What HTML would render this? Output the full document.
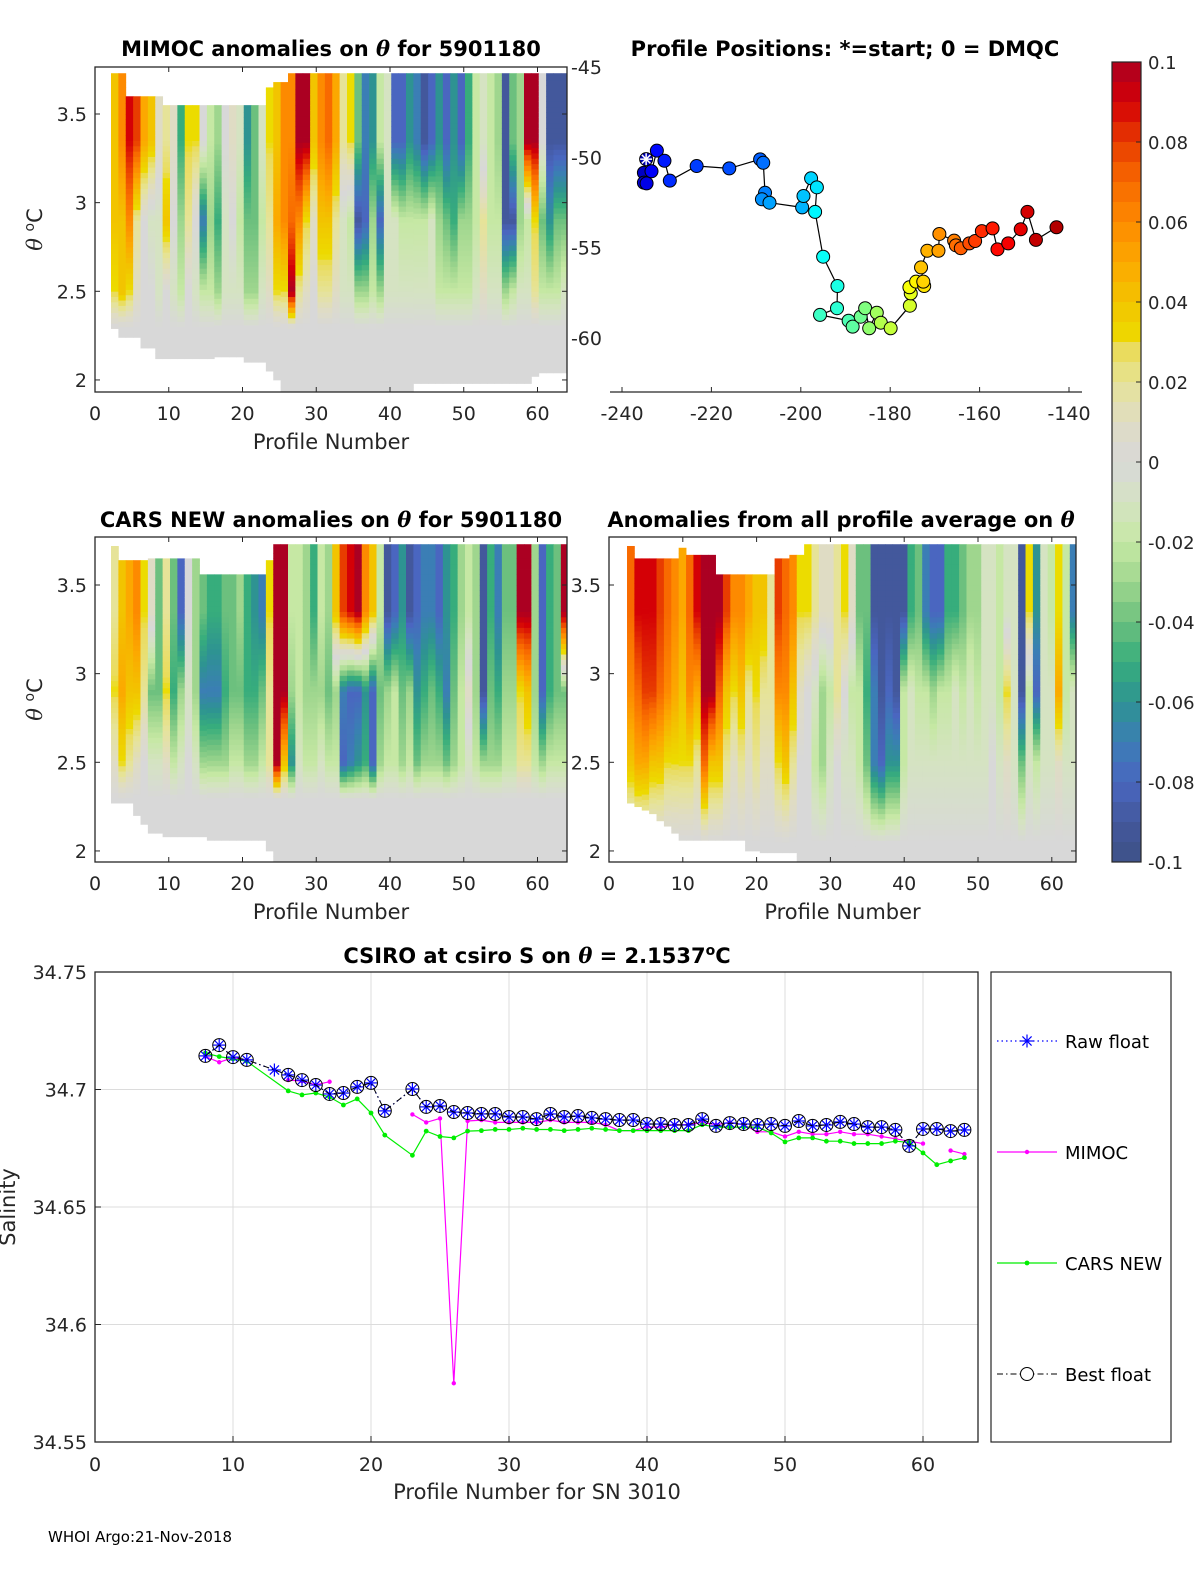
<!DOCTYPE html>
<html><head><meta charset="utf-8"><style>
html,body{margin:0;padding:0;background:#fff}
svg{display:block;font-family:"DejaVu Sans","Liberation Sans",sans-serif}
</style></head><body>
<svg id="fig" width="1200" height="1575" viewBox="0 0 1200 1575" xmlns="http://www.w3.org/2000/svg">
<g id="titles" font-weight="bold" font-size="21" text-anchor="middle" fill="#000">
<text x="331" y="56">MIMOC anomalies on <tspan font-style="italic" font-family="DejaVu Serif,serif">θ</tspan>  for 5901180</text>
<text x="845" y="56">Profile Positions: *=start; 0 = DMQC</text>
<text x="331" y="527">CARS NEW anomalies on <tspan font-style="italic" font-family="DejaVu Serif,serif">θ</tspan> for 5901180</text>
<text x="841" y="527">Anomalies from all profile average on <tspan font-style="italic" font-family="DejaVu Serif,serif">θ</tspan></text>
<text x="537" y="963">CSIRO at csiro S on <tspan font-style="italic" font-family="DejaVu Serif,serif">θ</tspan> = 2.1537<tspan dy="-8" font-size="14">o</tspan><tspan dy="8">C</tspan></text>
</g>
<text x="48" y="1542" font-size="15" fill="#000">WHOI Argo:21-Nov-2018</text>
</svg>
<script>
// ---------- colormap ----------
const cmapStops = [[-10,'#3d5187'],[-9,'#43589c'],[-8,'#4a66c0'],[-7,'#3b7eb5'],[-6,'#2e9392'],[-5,'#37ad7c'],[-4,'#6cc07e'],[-3,'#9fd68e'],[-2,'#c6e8a4'],[-1,'#d5e3c2'],[0,'#d8d8d8'],[1,'#dfdcc4'],[2,'#e6e398'],[2.8,'#eadc5a'],[3,'#ecdc00'],[4,'#f2c400'],[5,'#fca800'],[6,'#fd8a00'],[7,'#f86a00'],[8,'#e83c00'],[9,'#d40006'],[10,'#ab0022']];
const colorbarTicks = [0.1,0.08,0.06,0.04,0.02,0,-0.02,-0.04,-0.06,-0.08,-0.1];
// ---------- heatmap data (hundredths), columns = profiles 3..64 ----------
const mimocUpper = [4,6,9,8,5,4,1,2,1,-5,3,3,0,-2,-3,0,1,-1,-6,-4,-1,3,4,6,6,10,10,4,6,7,5,2,3,-4,-7,-6,-2,-1,-8,-8,-6,-7,-9,-8,-6,-8,-6,-8,-5,-2,-1,-2,-3,-9,-4,-3,10,10,0,-9,-9,-9];
const mimocMid = [4,4,6,2,0,-1,-1,4,0,-3,2,0,-7,-3,-5,-1,0,-2,-4,-4,-2,2,5,6,7,6,3,1,4,4,2,-1,-2,-9,-8,-3,-8,-1,-1,-2,-2,-2,-2,-1,-3,-4,-5,-3,-3,-2,2,-2,-2,-9,-9,-3,-2,3,-4,-6,-4,-4];
const mimocLow = [3,4,3,1,0,0,-1,0,-1,-2,0,-1,-2,-2,-3,-1,-1,-1,-3,-3,-1,1,3,3,10,2,1,0,2,2,1,-1,-1,-3,-3,-2,-3,-1,-1,-1,-1,-1,-1,-1,-2,-2,-2,-2,-2,-1,1,-1,-1,-3,-2,-1,-1,2,-2,-2,-2,-1];
const mimocTop = [3.73,3.73,3.6,3.6,3.6,3.6,3.6,3.55,3.55,3.55,3.55,3.55,3.55,3.55,3.55,3.55,3.55,3.55,3.55,3.55,3.55,3.65,3.68,3.68,3.73,3.73,3.73,3.73,3.73,3.73,3.73,3.73,3.73,3.73,3.73,3.73,3.73,3.73,3.73,3.73,3.73,3.73,3.73,3.73,3.73,3.73,3.73,3.73,3.73,3.73,3.73,3.73,3.73,3.73,3.73,3.73,3.73,3.73,3.73,3.73,3.73,3.73];
const mimocBot = [2.29,2.24,2.24,2.24,2.18,2.18,2.12,2.12,2.12,2.12,2.12,2.12,2.12,2.12,2.13,2.13,2.13,2.13,2.1,2.1,2.1,2.05,2.0,1.93,1.93,1.93,1.93,1.93,1.93,1.93,1.93,1.93,1.93,1.93,1.93,1.93,1.93,1.93,1.93,1.93,1.93,1.98,1.98,1.98,1.98,1.98,1.98,1.98,1.98,1.98,1.98,1.98,1.98,1.98,1.98,1.98,1.98,2.02,2.04,2.04,2.04,2.04];
const carsUpper = [2,4,5,6,3,1,-4,2,-4,-8,0,-3,-4,-5,-5,-4,-4,-3,-5,-6,-7,3,10,10,-2,-2,-3,-5,-2,-3,4,8,9,10,6,4,-2,-9,-8,-6,-9,-8,-7,-7,-8,-6,-5,-3,-2,-3,-9,-5,-7,-4,-4,10,10,-3,-8,-5,-4,10];
const carsMid = [3,5,4,4,2,-4,-4,3,-5,-3,-1,-3,-7,-7,-7,-5,-4,-4,-5,-5,-4,2,10,10,-3,-2,-3,-3,-3,-4,-3,-7,-8,-8,-6,-8,-4,-3,-2,-4,-3,-6,-5,-4,-5,-7,-4,-2,1,-3,-9,-4,-5,-3,-3,3,4,-3,-8,-5,-4,-4];
const carsLow = [1,3,2,1,0,-1,-1,1,-2,-1,0,-1,-3,-3,-3,-3,-2,-2,-3,-3,-2,2,10,4,-6,-1,-2,-2,-1,-2,-2,-8,-7,-6,-5,-8,-3,-2,-2,-3,-2,-4,-3,-3,-3,-4,-3,-2,-1,-2,-3,-3,-3,-2,-2,2,2,-2,-3,-2,-2,-2];
const carsTop = [3.72,3.64,3.64,3.64,3.64,3.65,3.65,3.65,3.65,3.65,3.65,3.65,3.56,3.56,3.56,3.56,3.56,3.56,3.56,3.56,3.56,3.64,3.73,3.73,3.73,3.73,3.73,3.73,3.73,3.73,3.73,3.73,3.73,3.73,3.73,3.73,3.73,3.73,3.73,3.73,3.73,3.73,3.73,3.73,3.73,3.73,3.73,3.73,3.73,3.73,3.73,3.73,3.73,3.73,3.73,3.73,3.73,3.73,3.73,3.73,3.73,3.73];
const carsBot = [2.27,2.27,2.27,2.2,2.15,2.1,2.1,2.08,2.08,2.08,2.08,2.08,2.08,2.06,2.06,2.06,2.06,2.06,2.06,2.06,2.06,2.0,1.94,1.94,1.94,1.94,1.94,1.94,1.94,1.94,1.94,1.94,1.94,1.94,1.94,1.94,1.94,1.94,1.94,1.94,1.94,1.94,1.94,1.94,1.94,1.94,1.94,1.94,1.94,1.94,1.94,1.94,1.94,1.94,1.94,1.94,1.94,1.94,1.94,1.94,1.94,1.94];
const avgUpper = [7,9,9,9,8,7,6,5,7,9,10,10,10,8,6,6,5,4,4,2,8,7,6,3,3,2,1,1,2,3,1,-4,-4,-9,-9,-9,-9,-9,-5,-4,-7,-8,-8,-5,-5,-4,-3,-3,-1,-1,-2,-1,-1,-9,3,-6,-1,-2,3,-2,-7,-4];
const avgMid = [6,7,8,8,7,6,5,4,6,5,10,10,7,4,3,4,2,3,2,2,6,6,4,1,0,-1,-3,-2,2,0,-2,-2,-5,-7,-9,-8,-9,-2,-1,-2,-2,-3,-2,-2,-1,-2,-1,-2,-1,-1,-2,3,-1,-9,-2,-8,-1,-1,5,-2,-1,-2];
const avgLow = [4,5,5,4,4,3,3,3,3,2,7,4,4,2,1,2,1,2,1,1,3,4,2,0,0,-2,-3,-1,0,-1,-1,-2,-4,-7,-8,-6,-6,-2,-1,-1,-1,-1,-1,-1,-1,-1,-1,-1,-1,0,-1,1,-1,-4,-1,-2,-1,-1,1,-1,-1,-1];
const avgTop = [3.72,3.65,3.65,3.65,3.65,3.65,3.65,3.71,3.67,3.67,3.67,3.67,3.56,3.56,3.56,3.56,3.56,3.56,3.56,3.56,3.65,3.65,3.67,3.67,3.73,3.73,3.73,3.73,3.73,3.73,3.73,3.73,3.73,3.73,3.73,3.73,3.73,3.73,3.73,3.73,3.73,3.73,3.73,3.73,3.73,3.73,3.73,3.73,3.73,3.73,3.73,3.73,3.73,3.73,3.73,3.73,3.73,3.73,3.73,3.73,3.73,3.73];
const avgBot = [2.27,2.25,2.23,2.21,2.17,2.14,2.1,2.06,2.06,2.06,2.06,2.06,2.06,2.06,2.06,2.06,2.0,2.0,1.99,1.99,1.99,1.99,1.99,1.94,1.94,1.94,1.94,1.94,1.94,1.94,1.94,1.94,1.94,1.94,1.94,1.94,1.94,1.94,1.94,1.94,1.94,1.94,1.94,1.94,1.94,1.94,1.94,1.94,1.94,1.94,1.94,1.94,1.94,1.94,1.94,1.94,1.94,1.94,1.94,1.94,1.94,1.94];
// ---------- map data ----------
const mapLon = [-234.6,-235.1,-235.1,-234.5,-233.4,-232.2,-230.5,-229.3,-223.3,-216.0,-209.1,-208.4,-208.0,-208.7,-207.0,-199.7,-199.4,-197.7,-196.4,-196.8,-195.0,-191.8,-191.9,-195.7,-189.3,-188.4,-186.6,-185.6,-184.7,-183.0,-182.1,-179.9,-175.6,-175.4,-175.7,-174.2,-172.4,-172.6,-173.1,-171.7,-169.2,-169.0,-165.7,-165.3,-164.2,-162.3,-161.0,-159.5,-157.1,-156.0,-153.6,-150.8,-149.3,-147.4,-142.8];
const mapLat = [-50.1,-50.85,-51.4,-51.44,-50.77,-49.63,-50.19,-51.29,-50.48,-50.61,-50.11,-50.3,-51.96,-52.32,-52.51,-52.77,-52.14,-51.16,-51.66,-53.02,-55.5,-57.12,-58.35,-58.72,-59.04,-59.37,-58.82,-58.35,-59.46,-58.6,-59.15,-59.46,-58.21,-57.53,-57.19,-56.88,-57.12,-56.88,-56.09,-55.17,-55.17,-54.24,-54.61,-54.87,-55.03,-54.76,-54.63,-54.08,-53.93,-55.09,-54.76,-53.98,-53.02,-54.57,-53.87];
const mapXTicks = [-240,-220,-200,-180,-160,-140];
const mapYTicks = [-45,-50,-55,-60];
// ---------- salinity data ----------
const rawProf = [8,9,10,11,13,14,15,16,17,18,19,20,21,23,24,25,26,27,28,29,30,31,32,33,34,35,36,37,38,39,40,41,42,43,44,45,46,47,48,49,50,51,52,53,54,55,56,57,58,59,60,61,62,63];
const rawSal = [34.7143,34.7189,34.7138,34.7126,34.7083,34.7062,34.7040,34.7019,34.6981,34.6985,34.7011,34.7028,34.6909,34.7002,34.6926,34.6930,34.6904,34.6900,34.6896,34.6896,34.6883,34.6883,34.6874,34.6896,34.6883,34.6887,34.6879,34.6874,34.6870,34.6870,34.6853,34.6853,34.6849,34.6849,34.6874,34.6845,34.6857,34.6853,34.6849,34.6853,34.6845,34.6866,34.6845,34.6849,34.6862,34.6853,34.6840,34.6840,34.6828,34.6760,34.6832,34.6832,34.6823,34.6828];
const bestProf = [8,9,10,11,14,15,16,17,18,19,20,21,23,24,25,26,27,28,29,30,31,32,33,34,35,36,37,38,39,40,41,42,43,44,45,46,47,48,49,50,51,52,53,54,55,56,57,58,59,60,61,62,63];
const bestSal = [34.7143,34.7189,34.7138,34.7126,34.7062,34.7040,34.7019,34.6981,34.6985,34.7011,34.7028,34.6909,34.7002,34.6926,34.6930,34.6904,34.6900,34.6896,34.6896,34.6883,34.6883,34.6874,34.6896,34.6883,34.6887,34.6879,34.6874,34.6870,34.6870,34.6853,34.6853,34.6849,34.6849,34.6874,34.6845,34.6857,34.6853,34.6849,34.6853,34.6845,34.6866,34.6845,34.6849,34.6862,34.6853,34.6840,34.6840,34.6828,34.6760,34.6832,34.6832,34.6823,34.6828];
const mimocProf = [8,9,10,11,12,14,15,16,17,18,23,24,25,26,27,28,29,30,31,32,33,34,35,36,37,38,39,40,41,42,43,44,45,46,47,48,49,50,51,52,53,54,55,56,57,58,59,60,61,62,63];
const mimocSal = [34.714,34.7116,34.7135,34.7125,null,34.704,34.7036,34.702,34.7033,null,34.6894,34.686,34.6877,34.575,34.6866,34.687,34.686,34.686,34.686,34.686,34.687,34.686,34.686,34.686,34.685,34.6825,34.6825,34.684,34.684,34.685,34.685,34.686,34.685,34.686,34.685,34.682,34.682,34.680,34.682,34.681,34.681,34.682,34.681,34.681,34.680,34.679,34.678,34.677,null,34.674,34.6725];
const carsProf = [8,9,10,11,14,15,16,17,18,19,20,21,23,24,25,26,27,28,29,30,31,32,33,34,35,36,37,38,39,40,41,42,43,44,45,46,47,48,49,50,51,52,53,54,55,56,57,58,59,60,61,62,63];
const carsSal = [34.7155,34.714,34.713,34.712,34.6994,34.6977,34.6985,34.6968,34.6934,34.696,34.690,34.6806,34.672,34.6823,34.680,34.6794,34.6823,34.6825,34.683,34.683,34.6835,34.683,34.683,34.6825,34.683,34.6835,34.683,34.6825,34.6825,34.6825,34.6825,34.6825,34.6825,34.685,34.684,34.684,34.684,34.684,34.6815,34.6777,34.6794,34.6794,34.678,34.678,34.677,34.677,34.677,34.678,34.6775,34.673,34.668,34.6696,34.671];
const salXTicks = [0,10,20,30,40,50,60];
const salYTicks = [34.55,34.6,34.65,34.7,34.75];
const thetaTicks = [2,2.5,3,3.5];
const profTicks = [0,10,20,30,40,50,60];

const NS = 'http://www.w3.org/2000/svg';
const svg = document.getElementById('fig');
function mk(tag, attrs, parent){ const e=document.createElementNS(NS,tag); for(const k in attrs) e.setAttribute(k,attrs[k]); (parent||svg).appendChild(e); return e; }
function hex(h){return [parseInt(h.substr(1,2),16),parseInt(h.substr(3,2),16),parseInt(h.substr(5,2),16)];}
function cmap(v){
  v=Math.max(-10,Math.min(10,v));
  for(let i=0;i<cmapStops.length-1;i++){const a=cmapStops[i],b=cmapStops[i+1]; if(v<=b[0]){const t=(v-a[0])/(b[0]-a[0]);const ca=hex(a[1]),cb=hex(b[1]);return 'rgb('+ca.map((c,j)=>Math.round(c+(cb[j]-c)*t)).join(',')+')';}}
  return cmapStops[cmapStops.length-1][1];
}
function jet(t){
  const r=Math.max(0,Math.min(1,1.5-Math.abs(4*t-3))), g=Math.max(0,Math.min(1,1.5-Math.abs(4*t-2))), b=Math.max(0,Math.min(1,1.5-Math.abs(4*t-1)));
  return 'rgb('+[r,g,b].map(c=>Math.round(c*255)).join(',')+')';
}

// ---------- heat panel ----------
function heatPanel(name, P, up, mid, low, top, bot, zeroT, showXLabel, ylabel){
  const g = mk('g',{}); 
  
  
  const sx = v => P.x0 + (v)*P.ppx;
  const sy = t => P.y35 + (3.5-t)*177.3;
  const clipId = name+'-clip';
  const cp = mk('clipPath',{id:clipId},g); mk('rect',{x:P.x0,y:P.y0,width:P.x1-P.x0,height:P.y1-P.y0},cp);
  const cells = mk('g',{'clip-path':'url(#'+clipId+')'},g);
  
  
  const dT = 0.03;
  for(let i=0;i<up.length;i++){
    const k=i+3, xa=sx(k-P.off), xb=sx(k+1-P.off);
    for(let t=bot[i]; t<top[i]-1e-6; t+=dT){
      const tc=t+dT/2; let v;
      if(tc>=3.35) v=up[i];
      else if(tc>=2.9) v=mid[i]+(up[i]-mid[i])*(tc-2.9)/0.45;
      else if(tc>=2.5) v=low[i]+(mid[i]-low[i])*(tc-2.5)/0.4;
      else if(tc>=zeroT) v=low[i]*(tc-zeroT)/(2.5-zeroT);
      else v=0;
      const r = mk('rect',{x:xa.toFixed(2),y:sy(Math.min(t+dT,top[i])).toFixed(2),width:(xb-xa+0.4).toFixed(2),height:(sy(t)-sy(Math.min(t+dT,top[i]))+0.4).toFixed(2),fill:cmap(v)},cells);
    }
  }
  mk('rect',{x:P.x0,y:P.y0,width:P.x1-P.x0,height:P.y1-P.y0,fill:'none',stroke:'#262626','stroke-width':1.3},g);
  profTicks.forEach(p=>{const x=sx(p); mk('line',{x1:x,x2:x,y1:P.y1,y2:P.y1-5,stroke:'#262626'},g); mk('line',{x1:x,x2:x,y1:P.y0,y2:P.y0+5,stroke:'#262626'},g);
    const tx=mk('text',{x:x,y:P.y1+28,'font-size':19,'text-anchor':'middle',fill:'#262626'},g); tx.textContent=p; });
  thetaTicks.forEach(t=>{const y=sy(t); mk('line',{x1:P.x0,x2:P.x0+5,y1:y,y2:y,stroke:'#262626'},g); mk('line',{x1:P.x1,x2:P.x1-5,y1:y,y2:y,stroke:'#262626'},g);
    const tx=mk('text',{x:P.x0-8,y:y+7,'font-size':19,'text-anchor':'end',fill:'#262626'},g); tx.textContent=t; });
  if(showXLabel){const xl=mk('text',{x:(P.x0+P.x1)/2,y:P.y1+57,'font-size':21,'text-anchor':'middle',fill:'#262626'},g); xl.textContent='Profile Number';
     }
  if(ylabel){const yl=mk('text',{transform:'translate(42,'+((P.y0+P.y1)/2)+') rotate(-90)','font-size':21,'text-anchor':'middle',fill:'#262626'},g);
    yl.innerHTML='<tspan font-style="italic" font-family="DejaVu Serif,serif">θ</tspan> <tspan dy="-8" font-size="14">o</tspan><tspan dy="8">C</tspan>';
     }
}
heatPanel('mimoc-heatmap',{x0:95,x1:567,y0:67,y1:392,ppx:7.375,y35:114,off:0.83},mimocUpper,mimocMid,mimocLow,mimocTop,mimocBot,2.3,true,true);
heatPanel('cars-heatmap',{x0:95,x1:567,y0:537,y1:862,ppx:7.375,y35:585,off:0.83},carsUpper,carsMid,carsLow,carsTop,carsBot,2.3,true,true);
heatPanel('average-heatmap',{x0:609,x1:1076,y0:537,y1:862,ppx:7.38,y35:585,off:0.56},avgUpper,avgMid,avgLow,avgTop,avgBot,2.05,true,false);

// ---------- map ----------
(function(){
  const g=mk('g',{});  
  const mx=lon=>622+(lon+240)*4.47, my=lat=>67+(-45-lat)*18.07;
  mk('line',{x1:610,x2:1082,y1:392,y2:392,stroke:'#262626','stroke-width':1.3},g);
  mapXTicks.forEach(v=>{const x=mx(v); mk('line',{x1:x,x2:x,y1:392,y2:387,stroke:'#262626'},g);
    const t=mk('text',{x:x,y:420,'font-size':19,'text-anchor':'middle',fill:'#262626'},g); t.textContent=v;});
  mapYTicks.forEach(v=>{const y=my(v); const t=mk('text',{x:602,y:y+7,'font-size':19,'text-anchor':'end',fill:'#262626'},g); t.textContent=v;});
  const pts=mapLon.map((l,i)=>mx(l).toFixed(1)+','+my(mapLat[i]).toFixed(1)).join(' ');
  const track=mk('polyline',{points:pts,fill:'none',stroke:'#000','stroke-width':1.2},g);
   
  mapLon.forEach((l,i)=>{const c=mk('circle',{cx:mx(l),cy:my(mapLat[i]),r:6.5,fill:jet(0.05+0.9*i/(mapLon.length-1)),stroke:'#000','stroke-width':1},g);
     });
  const sx0=mx(mapLon[0]), sy0=my(mapLat[0]);
  for(let a=0;a<4;a++){const an=a*Math.PI/4; mk('line',{x1:sx0-6*Math.cos(an),y1:sy0-6*Math.sin(an),x2:sx0+6*Math.cos(an),y2:sy0+6*Math.sin(an),stroke:'#fff','stroke-width':1.5},g);}
})();

// ---------- colorbar ----------
(function(){
  const g=mk('g',{});  
  const y0=62,y1=862,x0=1112,x1=1141,n=40;
  for(let i=0;i<n;i++){const v=10-(i+0.5)*20/n; mk('rect',{x:x0,y:y0+i*(y1-y0)/n,width:x1-x0,height:(y1-y0)/n+0.5,fill:cmap(v)},g);}
  mk('rect',{x:x0,y:y0,width:x1-x0,height:y1-y0,fill:'none',stroke:'#262626','stroke-width':1.2},g);
  colorbarTicks.forEach(v=>{const y=y0+(0.1-v)/0.2*(y1-y0); mk('line',{x1:x1-5,x2:x1,y1:y,y2:y,stroke:'#262626'},g);
    const t=mk('text',{x:1148,y:y+7,'font-size':18,fill:'#262626'},g); t.textContent=v;});
})();

// ---------- salinity chart ----------
(function(){
  const g=mk('g',{});  
  const X0=95,X1=978,Y0=972,Y1=1442;
  const px=p=>X0+p*13.8, py=v=>Y0+(34.75-v)*2350;
  salXTicks.forEach(p=>{const x=px(p); if(p>0) mk('line',{x1:x,x2:x,y1:Y0,y2:Y1,stroke:'#dcdcdc'},g);
    mk('line',{x1:x,x2:x,y1:Y1,y2:Y1-6,stroke:'#262626'},g);
    const t=mk('text',{x:x,y:Y1+29,'font-size':19,'text-anchor':'middle',fill:'#262626'},g); t.textContent=p;});
  salYTicks.forEach(v=>{const y=py(v); if(v>34.55&&v<34.75) mk('line',{x1:X0,x2:X1,y1:y,y2:y,stroke:'#dcdcdc'},g);
    mk('line',{x1:X0,x2:X0+6,y1:y,y2:y,stroke:'#262626'},g);
    const t=mk('text',{x:X0-8,y:y+7,'font-size':19,'text-anchor':'end',fill:'#262626'},g); t.textContent=v;});
  mk('rect',{x:X0,y:Y0,width:X1-X0,height:Y1-Y0,fill:'none',stroke:'#262626','stroke-width':1.3},g);
  const xl=mk('text',{x:537,y:1499,'font-size':21,'text-anchor':'middle',fill:'#262626'},g); xl.textContent='Profile Number for SN 3010';
   
  const yl=mk('text',{transform:'translate(15,1207) rotate(-90)','font-size':21,'text-anchor':'middle',fill:'#262626'},g); yl.textContent='Salinity';
   
  function segs(P,V){const out=[];let cur=[];P.forEach((p,i)=>{if(V[i]==null){if(cur.length)out.push(cur);cur=[];}else cur.push(px(p).toFixed(1)+','+py(V[i]).toFixed(1));});if(cur.length)out.push(cur);return out;}
  function star(cx,cy,s,col,par){for(let a=0;a<4;a++){const an=a*Math.PI/4+Math.PI/8*0; mk('line',{x1:cx-s*Math.cos(an),y1:cy-s*Math.sin(an),x2:cx+s*Math.cos(an),y2:cy+s*Math.sin(an),stroke:col,'stroke-width':1.2},par);}}
  // MIMOC
  const gm=mk('g',{},g);  
  segs(mimocProf,mimocSal).forEach(s=>mk('polyline',{points:s.join(' '),fill:'none',stroke:'#ff00ff','stroke-width':1.2},gm));
  mimocProf.forEach((p,i)=>{if(mimocSal[i]!=null) mk('circle',{cx:px(p),cy:py(mimocSal[i]),r:2.2,fill:'#ff00ff'},gm);});
  // CARS
  const gc=mk('g',{},g);  
  segs(carsProf,carsSal).forEach(s=>mk('polyline',{points:s.join(' '),fill:'none',stroke:'#00ee00','stroke-width':1.2},gc));
  carsProf.forEach((p,i)=>mk('circle',{cx:px(p),cy:py(carsSal[i]),r:2.4,fill:'#00ee00'},gc));
  // Raw float
  const gr=mk('g',{},g);  
  segs(rawProf,rawSal).forEach(s=>mk('polyline',{points:s.join(' '),fill:'none',stroke:'#0000ff','stroke-width':1.2,'stroke-dasharray':'1.5,3'},gr));
  rawProf.forEach((p,i)=>star(px(p),py(rawSal[i]),6.5,'#0000ff',gr));
  // Best float
  const gb=mk('g',{},g);  
  segs(bestProf,bestSal).forEach(s=>mk('polyline',{points:s.join(' '),fill:'none',stroke:'#000','stroke-width':1,'stroke-dasharray':'6,3,1.5,3'},gb));
  bestProf.forEach((p,i)=>mk('circle',{cx:px(p),cy:py(bestSal[i]),r:6.5,fill:'none',stroke:'#000','stroke-width':1},gb));
  // legend
  const lg=mk('g',{},g);  
  mk('rect',{x:991,y:972,width:180,height:470,fill:'#fff',stroke:'#262626','stroke-width':1.2},lg);
  const entries=[['Raw float',1041],['MIMOC',1152],['CARS NEW',1263],['Best float',1374]];
  entries.forEach((e,i)=>{const y=e[1];
    const eg=mk('g',{},lg);  
    if(i==0){mk('line',{x1:997,x2:1057,y1:y,y2:y,stroke:'#0000ff','stroke-dasharray':'1.5,3','stroke-width':1.2},eg);star(1027,y,6.5,'#0000ff',eg);}
    if(i==1){mk('line',{x1:997,x2:1057,y1:y,y2:y,stroke:'#ff00ff','stroke-width':1.2},eg);mk('circle',{cx:1027,cy:y,r:2.2,fill:'#ff00ff'},eg);}
    if(i==2){mk('line',{x1:997,x2:1057,y1:y,y2:y,stroke:'#00ee00','stroke-width':1.2},eg);mk('circle',{cx:1027,cy:y,r:2.4,fill:'#00ee00'},eg);}
    if(i==3){mk('line',{x1:997,x2:1057,y1:y,y2:y,stroke:'#000','stroke-dasharray':'6,3,1.5,3'},eg);mk('circle',{cx:1027,cy:y,r:6.5,fill:'#fff',stroke:'#000'},eg);}
    const t=mk('text',{x:1065,y:y+7,'font-size':18,fill:'#000'},eg); t.textContent=e[0];});
})();
</script>
</body></html>
